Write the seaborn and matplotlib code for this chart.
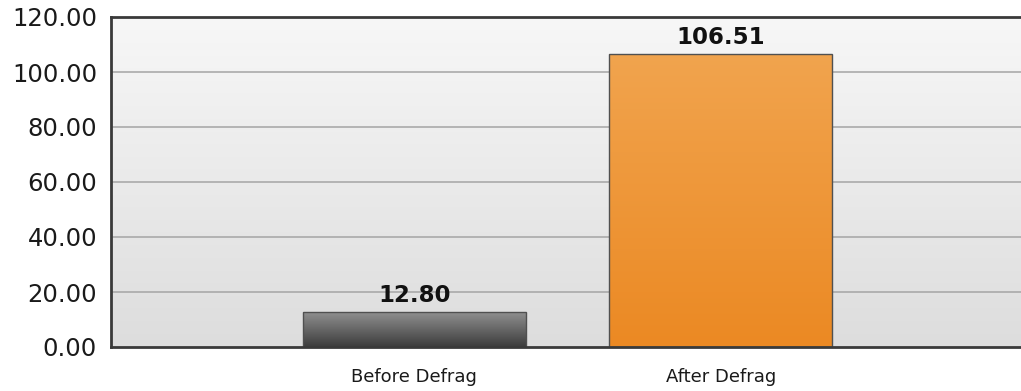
import numpy as np
import pandas as pd
import matplotlib
matplotlib.use("Agg")
import matplotlib.pyplot as plt
import seaborn as sns
from matplotlib.colors import LinearSegmentedColormap

categories = ["Before Defrag", "After Defrag"]
values = [12.80, 106.51]
y_ticks = [0, 20, 40, 60, 80, 100, 120]
bar_top_colors = ["#929292", "#f1a44e"]
bar_bottom_colors = ["#3c3c3c", "#eb8923"]

sns.set_theme(style="white")
plt.rcParams['font.family'] = ['DejaVu Sans']

W, H = 1021, 391
fig = plt.figure(figsize=(W / 100, H / 100), dpi=100)
ax = fig.add_axes([111 / W, 1 - 347 / H, 1 - 111 / W, (347 - 17) / H])

df = pd.DataFrame({"cat": categories, "val": values})
sns.barplot(data=df, x="cat", y="val", ax=ax, width=0.727, color="#888888",
            edgecolor="#505050", linewidth=1.0, zorder=3)

xlim = (-0.99, 1.98)
ylim = (0, 120)

# background gradient
bg = LinearSegmentedColormap.from_list("bg", ["#dddddd", "#f7f7f7"])
grad = np.linspace(0, 1, 256).reshape(-1, 1)
ax.imshow(grad, extent=[xlim[0], xlim[1], ylim[0], ylim[1]], origin="lower",
          aspect="auto", cmap=bg, zorder=0)

# bar gradients
for patch, top, bot in zip(ax.patches, bar_top_colors, bar_bottom_colors):
    x0, w, h = patch.get_x(), patch.get_width(), patch.get_height()
    cmap = LinearSegmentedColormap.from_list("b", [bot, top])
    im = ax.imshow(grad, extent=[x0, x0 + w, 0, h], origin="lower",
                   aspect="auto", cmap=cmap, zorder=2.5)
    im.set_clip_path(patch)
    patch.set_facecolor("none")

for i, v in enumerate(values):
    ax.annotate(f"{v:.2f}", (i, v), xytext=(0, 7), textcoords="offset points",
                ha="center", va="baseline", fontsize=16.5, fontweight="bold",
                color="#111111", zorder=5)

ax.set_xlim(*xlim)
ax.set_ylim(*ylim)
ax.set_yticks(y_ticks)
ax.set_yticklabels([f"{t:.2f}" for t in y_ticks])
for t in y_ticks[1:-1]:
    ax.axhline(t, color="#a4a4a4", linewidth=1.1, zorder=1)

ax.set_xlabel("")
ax.set_ylabel("")
ax.tick_params(axis="y", length=0, pad=10, labelsize=17.5, labelcolor="#1a1a1a")
ax.tick_params(axis="x", length=0, pad=15, labelsize=13, labelcolor="#1a1a1a")

for side in ["left", "top", "bottom"]:
    ax.spines[side].set_color("#3a3a3a")
    ax.spines[side].set_linewidth(2)
    ax.spines[side].set_zorder(6)
ax.spines["right"].set_visible(False)

fig.savefig("out.png", dpi=100, facecolor="white")
